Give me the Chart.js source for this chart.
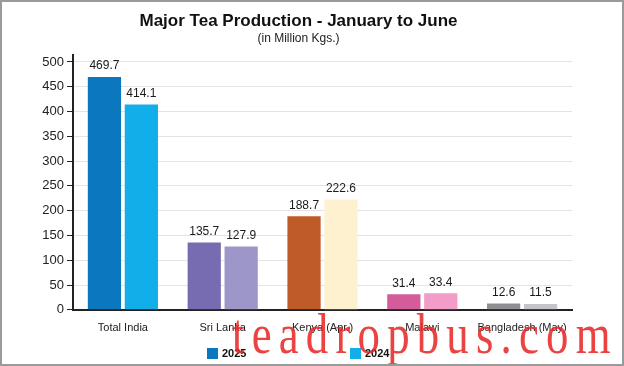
<!DOCTYPE html>
<html>
<head>
<meta charset="utf-8">
<script src="https://cdn.jsdelivr.net/npm/chart.js@4.4.1/dist/chart.umd.min.js"></script>
<style>
  html, body { margin: 0; padding: 0; background: #fff; }
  #wrap { position: relative; width: 624px; height: 366px; box-sizing: border-box; border: 2px solid #9a9a9a; background: #fff; overflow: hidden; }
  #wrap canvas { display: block; }
  #mark {
    position: absolute; left: 230px; top: 304px;
    font-family: 'Liberation Serif', 'Times New Roman', serif;
    font-size: 56px; line-height: 56px; letter-spacing: 9px;
    color: rgba(232, 40, 40, 0.88); white-space: nowrap;
    transform: scaleX(0.8); transform-origin: left top;
    pointer-events: none;
  }
</style>
</head>
<body>
<div id="wrap">
  <canvas id="chart" width="620" height="362"></canvas>
  <div id="mark">teadropbus.com</div>
</div>
<script>
// Major tea production, Jan-Jun (million kg)
const categories = ['Total India', 'Sri Lanka', 'Kenya (Apr.)', 'Malawi', 'Bangladesh (May)'];
const seriesNames = ['2025', '2024'];
const prod2025 = [469.7, 135.7, 188.7, 31.4, 12.6];
const prod2024 = [414.1, 127.9, 222.6, 33.4, 11.5];
const yTicks = [0, 50, 100, 150, 200, 250, 300, 350, 400, 450, 500];

const colors2025 = ['#0a77be', '#776bb2', '#bf5b28', '#d45c9b', '#8e8f92'];
const colors2024 = ['#12aeea', '#9d96c8', '#fdf1d0', '#f29dc8', '#c4c5c8'];
const legendColors = [colors2025[0], colors2024[0]];

const sans = "'Liberation Sans', Arial, sans-serif";
Chart.defaults.font.family = sans;
Chart.defaults.color = '#222';

// value labels on top of every bar
const valueLabels = {
  id: 'valueLabels',
  afterDatasetsDraw(chart) {
    const ctx = chart.ctx;
    ctx.save();
    ctx.font = "12px " + sans;
    ctx.fillStyle = '#1a1a1a';
    ctx.textAlign = 'center';
    ctx.textBaseline = 'bottom';
    chart.data.datasets.forEach((ds, i) => {
      chart.getDatasetMeta(i).data.forEach((bar, j) => {
        ctx.fillText(ds.data[j].toFixed(1), bar.x, bar.y - 5);
      });
    });
    ctx.restore();
  }
};

// legend under the axis, spread out like the original
const bottomLegend = {
  id: 'bottomLegend',
  afterDraw(chart) {
    const ctx = chart.ctx;
    const xs = [205, 348];
    ctx.save();
    ctx.font = "bold 11px " + sans;
    ctx.textBaseline = 'middle';
    seriesNames.forEach((name, i) => {
      ctx.fillStyle = legendColors[i];
      ctx.fillRect(xs[i], 346, 11, 11);
      ctx.fillStyle = '#111';
      ctx.fillText(name, xs[i] + 15, 352);
    });
    ctx.restore();
  }
};

new Chart(document.getElementById('chart'), {
  type: 'bar',
  data: {
    labels: categories,
    datasets: [
      { label: seriesNames[0], data: prod2025, backgroundColor: colors2025 },
      { label: seriesNames[1], data: prod2024, backgroundColor: colors2024 }
    ]
  },
  options: {
    responsive: false,
    animation: false,
    barPercentage: 0.9,
    categoryPercentage: 0.74,
    layout: { padding: { left: 23, right: 50, top: 0, bottom: 17 } },
    plugins: {
      legend: { display: false },
      tooltip: { enabled: false },
      title: {
        display: true,
        text: 'Major Tea Production - January to June',
        color: '#111',
        font: { size: 17, weight: 'bold', lineHeight: 1 },
        padding: { top: 11, bottom: 0 }
      },
      subtitle: {
        display: true,
        text: '(in Million Kgs.)',
        color: '#222',
        font: { size: 12, lineHeight: 1 },
        padding: { top: 3, bottom: 10 }
      }
    },
    scales: {
      x: {
        grid: { display: false, drawTicks: false },
        border: { color: '#222', width: 2 },
        ticks: { font: { size: 11 }, color: '#222', padding: 12, autoSkip: false, minRotation: 0, maxRotation: 0 }
      },
      y: {
        min: 0,
        max: 514,
        afterFit: (scale) => { scale.width = 48; },
        afterBuildTicks: (scale) => { scale.ticks = yTicks.map(v => ({ value: v })); },
        grid: { color: '#e4e4e4', tickColor: '#222', tickLength: 6, lineWidth: 1 },
        border: { color: '#222', width: 2 },
        ticks: { font: { size: 13 }, color: '#222', padding: 3 }
      }
    }
  },
  plugins: [valueLabels, bottomLegend]
});
</script>
</body>
</html>
